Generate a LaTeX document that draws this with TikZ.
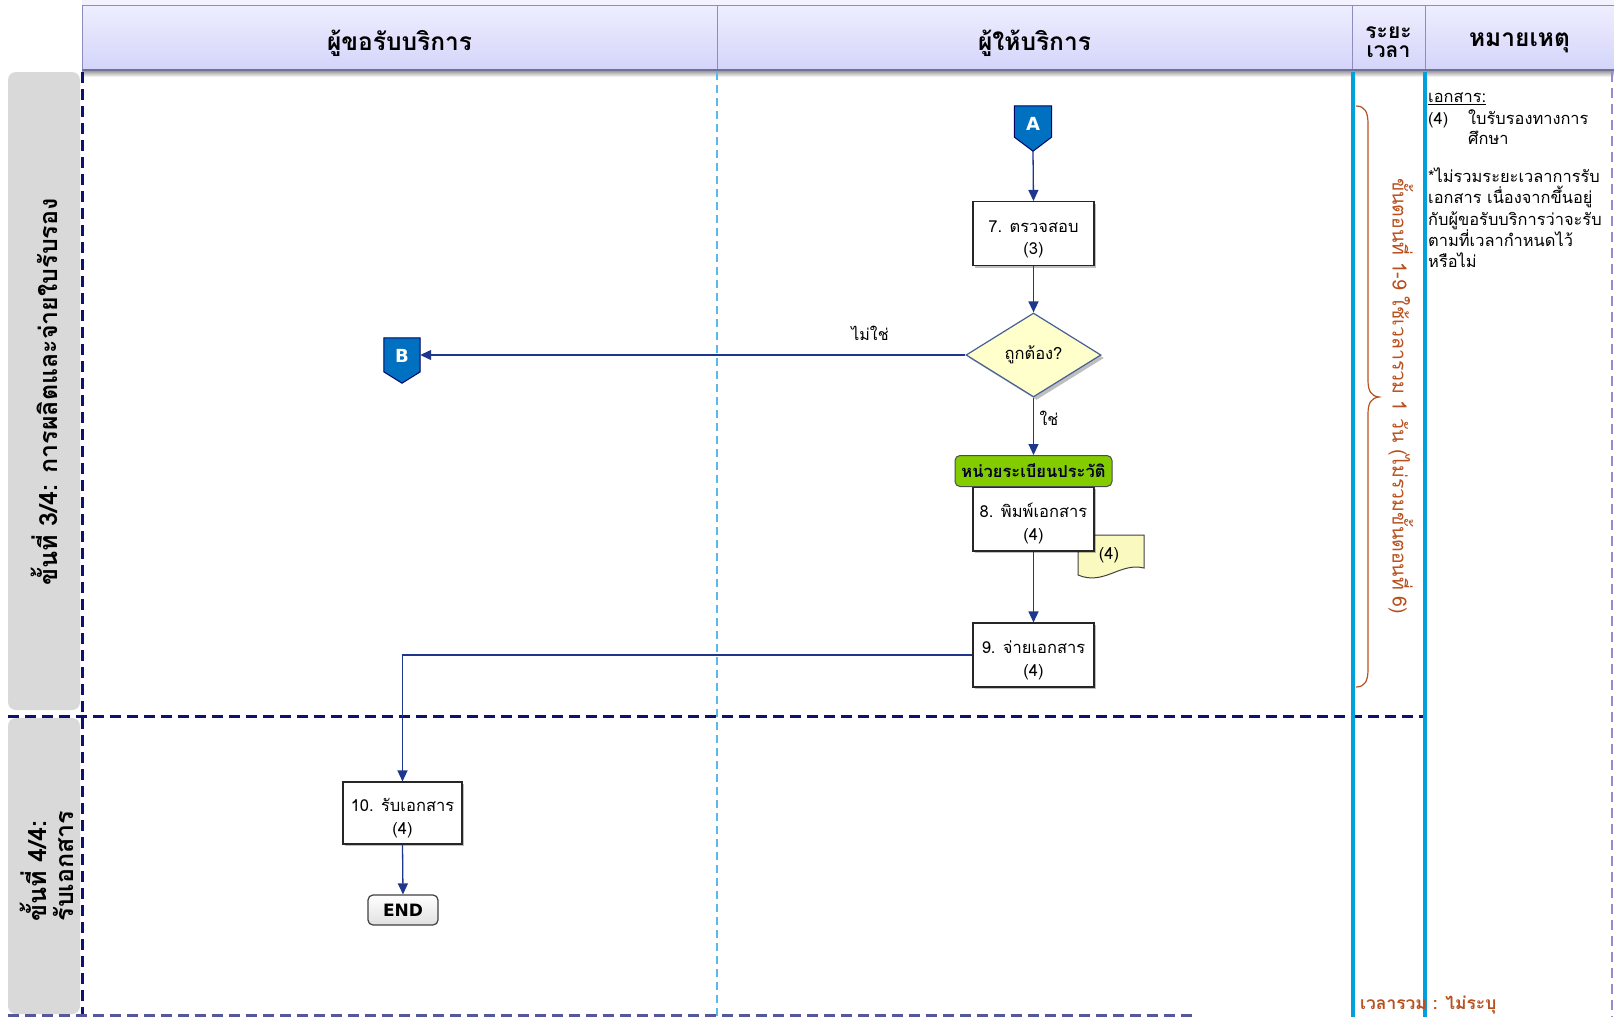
\documentclass[tikz,border=0pt]{standalone}
\usepackage{fontspec}
\setmainfont[Script=Thai]{Loma}
\newfontfamily\latinf{DejaVu Sans}
\usetikzlibrary{arrows.meta,shapes.geometric,shadows,calc}

\definecolor{hdrfill}{RGB}{212,212,250}
\definecolor{hdrtop}{RGB}{238,238,255}
\definecolor{hdredge}{RGB}{140,140,190}
\definecolor{lanegray}{RGB}{217,217,217}
\definecolor{navy}{RGB}{12,18,110}
\definecolor{flow}{RGB}{30,55,140}
\definecolor{skyline}{RGB}{90,185,235}
\definecolor{cyanbar}{RGB}{0,160,222}
\definecolor{connfill}{RGB}{0,112,192}
\definecolor{decfill}{RGB}{255,255,204}
\definecolor{decedge}{RGB}{70,95,150}
\definecolor{docfill}{RGB}{250,250,192}
\definecolor{unitgreen}{RGB}{130,204,0}
\definecolor{rust}{RGB}{185,80,30}
\definecolor{purpdash}{RGB}{150,140,205}

% two centred lines, set a little below the middle of their box
\newcommand{\twoline}[2]{\raisebox{0pt}[\dimexpr\height+11pt\relax][\depth]{\begin{tabular}{@{}c@{}}#1\\#2\end{tabular}}}

\begin{document}
\begin{tikzpicture}[x=1pt,y=-1pt,
  hdrcell/.style={draw=hdredge, line width=0.6pt, top color=hdrtop, bottom color=hdrfill,
    minimum height=65pt, inner sep=0pt},
  hdrtext/.style={inner sep=0pt, align=center, font=\fontsize{24.5}{24}\selectfont\bfseries},
  lanebox/.style={fill=lanegray, rounded corners=8pt, minimum width=72pt, inner sep=0pt},
  lanelabel/.style={rotate=90, align=left, inner sep=0pt, font=\fontsize{25}{27}\selectfont\bfseries},
  navydash/.style={navy, line width=3pt, dash pattern=on 11pt off 6pt},
  skydash/.style={skyline, line width=1.3pt, dash pattern=on 8pt off 5pt},
  cyanrule/.style={cyanbar, line width=4pt},
  procbox/.style={draw=black!85, fill=white, line width=1.1pt, minimum width=121pt,
    minimum height=64pt, inner sep=0pt, align=center, font=\fontsize{16.5}{22.5}\selectfont,
    drop shadow={shadow xshift=2pt, shadow yshift=-2pt, fill=black, opacity=0.25}},
  decision/.style={diamond, draw=decedge, line width=1.2pt, fill=decfill,
    minimum width=135pt, minimum height=84pt, inner sep=0pt, font=\fontsize{16.5}{18}\selectfont,
    drop shadow={shadow xshift=3pt, shadow yshift=-3pt, fill=black, opacity=0.25}},
  flowline/.style={flow, line width=1.3pt, -{Triangle[length=11pt,width=10pt]}},
  offpage/.style={minimum width=37pt, minimum height=45pt, inner sep=0pt},
  offshape/.style={fill=connfill, draw=black!60!blue, line width=1pt},
  offletter/.style={text=white, inner sep=0pt, font=\latinf\bfseries\fontsize{18}{19}\selectfont},
  unitlabel/.style={draw=black!70, fill=unitgreen, rounded corners=5pt, line width=1pt,
    minimum width=157pt, minimum height=31pt, inner sep=0pt, text=black!85!blue,
    font=\fontsize{16.5}{17}\selectfont\bfseries},
  endbox/.style={draw=black!75, top color=white, bottom color=black!12, rounded corners=5pt,
    line width=1.2pt, minimum width=70pt, minimum height=30pt, inner sep=0pt,
    font=\latinf\bfseries\fontsize{17}{18}\selectfont},
  branchlbl/.style={inner sep=1pt, font=\fontsize{16}{17}\selectfont},
  notetext/.style={inner sep=0pt, anchor=base west, font=\fontsize{16.4}{20}\selectfont},
  rusttext/.style={text=rust, inner sep=0pt}
]
\useasboundingbox (0,0) rectangle (1614,1017);
\fill[white] (0,0) rectangle (1614,1017);

% ---------- column headers ----------
\fill[hdrtop!70] (82,0) rectangle (1614,5);
\shade[top color=black!45, bottom color=white] (82,70) rectangle (1614,77);
\node[hdrcell, minimum width=635pt] (hcust) at (399.5,37.5) {};
\node[hdrcell, minimum width=635pt] (hprov) at (1034.5,37.5) {};
\node[hdrcell, minimum width=73pt] (htime) at (1388.5,37.5) {};
\node[hdrcell, minimum width=189pt] (hnote) at (1519.5,37.5) {};
\draw[hdredge!80!black, line width=2pt] (82,70) -- (1614,70);
\node[hdrtext] (tcust) at (399.5,43) {ผู้ขอรับบริการ};
\node[hdrtext] (tprov) at (1034.5,43) {ผู้ให้บริการ};
\node[hdrtext, font=\fontsize{21}{18.5}\selectfont\bfseries] (ttime) at (1388.5,42) {ระยะ\\เวลา};
\node[hdrtext] (tnote) at (1519.5,43) {หมายเหตุ};

% ---------- swimlane stage labels ----------
\node[lanebox, minimum height=638pt] (lane1) at (44,391) {};
\node[lanebox, minimum height=296pt] (lane2) at (44,866) {};
\node[lanelabel] (lab1) at (44,392) {ขั้นที่ 3/4: การผลิตและจ่ายใบรับรอง};
\node[lanelabel] (lab2) at (47,866) {ขั้นที่ 4/4:\\รับเอกสาร};

% ---------- lane and column rules ----------
\draw[skydash] (717,72) -- (717,1017);
\draw[navydash] (82,72) -- (82,1017);
\draw[navydash] (8,716) -- (1425,716);
\draw[navydash, navy!70] (8,1015) -- (1195,1015);
\draw[cyanrule] (1353,72) -- (1353,1017);
\draw[cyanrule] (1425,72) -- (1425,1017);
\draw[purpdash, line width=2pt, dash pattern=on 10pt off 6pt] (1612,72) -- (1612,1017);

% ---------- off-page connector A ----------
\node[offpage] (A) at (1033,128.5) {};
\draw[offshape] (A.north west) -- (A.north east) -- ($(A.north east)!0.69!(A.south east)$)
  -- (A.south) -- ($(A.north west)!0.69!(A.south west)$) -- cycle;
\node[offletter] (Alab) at ($(A.north)!0.4!(A.south)$) {A};

% ---------- process steps ----------
\node[procbox] (s7) at (1033.5,233.5) {\twoline{7. ตรวจสอบ}{(3)}};
\node[decision] (dec) at (1033.5,355) {ถูกต้อง?};

% document produced in step 8
\node[inner sep=0pt, minimum width=66pt, minimum height=43pt] (doc) at (1111,556) {};
\draw[draw=black!75, fill=docfill, line width=1pt]
  (1078,535) -- (1144,535) -- (1144,568)
  .. controls (1120,562) and (1104,586) .. (1078,575) -- cycle;
\node[inner sep=0pt, font=\fontsize{16.5}{18}\selectfont] (doclab) at (1109,555) {(4)};

\node[procbox] (s8) at (1033.5,519) {\twoline{8. พิมพ์เอกสาร}{(4)}};
\node[unitlabel] (unit) at (1033.5,471) {หน่วยระเบียนประวัติ};
\node[procbox] (s9) at (1033.5,655) {\twoline{9. จ่ายเอกสาร}{(4)}};
\node[procbox, minimum width=119pt, minimum height=62pt] (s10) at (402.5,813) {\twoline{10. รับเอกสาร}{(4)}};
\node[endbox] (fin) at (403,910) {END};

% ---------- off-page connector B ----------
\node[offpage, minimum width=36pt] (B) at (402,360.5) {};
\draw[offshape] (B.north west) -- (B.north east) -- ($(B.north east)!0.75!(B.south east)$)
  -- (B.south) -- ($(B.north west)!0.75!(B.south west)$) -- cycle;
\node[offletter] (Blab) at ($(B.north)!0.4!(B.south)$) {B};

% ---------- connectors ----------
\draw[flowline] (A.south) -- (s7.north);
\draw[flowline] (s7.south) -- (dec.north);
\draw[flowline] (dec.west) -- (dec.west -| B.east);
\draw[flowline] (dec.south) -- (unit.north);
\draw[flowline] (s8.south) -- (s9.north);
\draw[flowline] (s9.west) -| (s10.north);
\draw[flowline] (s10.south) -- (fin.north);
\node[branchlbl] (no) at (870,333) {ไม่ใช่};
\node[branchlbl] (yes) at (1049,418) {ใช่};

% ---------- duration column ----------
\draw[rust, line width=1.2pt]
  (1356,106) .. controls (1365,106) and (1368,112) .. (1368,124) -- (1368,380)
  .. controls (1368,391) and (1371,396) .. (1379,397)
  .. controls (1371,398) and (1368,403) .. (1368,414) -- (1368,669)
  .. controls (1368,681) and (1365,687) .. (1356,687);
\node[rusttext, rotate=-90, font=\fontsize{19.5}{20}\selectfont] (span) at (1401,396)
  {ขั้นตอนที่ 1-9 ใช้เวลารวม 1 วัน (ไม่รวมขั้นตอนที่ 6)};
\node[rusttext, anchor=west, font=\fontsize{17.4}{18}\selectfont\bfseries] (total) at (1360,1005)
  {เวลารวม : ไม่ระบุ};

% ---------- remarks ----------
\node[notetext] (n1) at (1428,102.5) {\underline{เอกสาร:}};
\node[notetext] (n2) at (1428,124) {(4)};
\node[notetext] (n3a) at (1468,124) {ใบรับรองทางการ};
\node[notetext] (n3b) at (1468,144) {ศึกษา};
\node[notetext] (n4a) at (1428,182.5) {*ไม่รวมระยะเวลาการรับ};
\node[notetext] (n4b) at (1428,203.8) {เอกสาร เนื่องจากขึ้นอยู่};
\node[notetext] (n4c) at (1428,225.1) {กับผู้ขอรับบริการว่าจะรับ};
\node[notetext] (n4d) at (1428,246.4) {ตามที่เวลากำหนดไว้};
\node[notetext] (n4e) at (1428,267.7) {หรือไม่};
\end{tikzpicture}
\end{document}
